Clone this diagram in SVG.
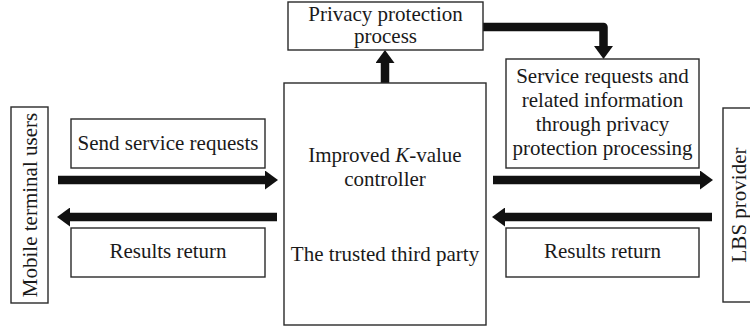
<svg xmlns="http://www.w3.org/2000/svg" width="750" height="330" viewBox="0 0 750 330">
<style>
.box{fill:#fff;stroke:#2a2a2a;stroke-width:1.4}
.t{font-family:"Liberation Serif","Times New Roman",serif;font-size:21px;fill:#1a1a1a;text-anchor:middle}
.arr{stroke:#111;stroke-width:8.5;fill:none}
</style>
<defs>
<marker id="ah" markerUnits="userSpaceOnUse" markerWidth="13" markerHeight="19" viewBox="0 0 13 19" refX="0" refY="9.5" orient="auto">
<path d="M0,0 L13,9.5 L0,19 Z" fill="#111"/>
</marker>
</defs>
<g id="connectors">
<line class="arr" x1="58" y1="180" x2="265" y2="180" marker-end="url(#ah)"/>
<line class="arr" x1="277" y1="217" x2="70" y2="217" marker-end="url(#ah)"/>
<line class="arr" x1="493" y1="180" x2="700" y2="180" marker-end="url(#ah)"/>
<line class="arr" x1="712" y1="217" x2="505" y2="217" marker-end="url(#ah)"/>
<line class="arr" x1="385" y1="83" x2="385" y2="63" marker-end="url(#ah)"/>
<path class="arr" d="M482,27 H603.5 V46" stroke-width="7" stroke-linejoin="round" marker-end="url(#ah)"/>
</g>
<g id="mobile-users">
<rect class="box" x="11" y="107" width="37" height="196"/>
<text class="t" transform="translate(29.5,205) rotate(-90)" dominant-baseline="central">Mobile terminal users</text>
</g>
<g id="send-requests">
<rect class="box" x="71" y="119" width="194" height="49"/>
<text class="t" x="168" y="150">Send service requests</text>
</g>
<g id="results-left">
<rect class="box" x="71" y="228" width="194" height="49"/>
<text class="t" x="168" y="258">Results return</text>
</g>
<g id="ttp">
<rect class="box" x="284" y="83" width="202" height="242"/>
<text class="t" x="385" y="162">Improved <tspan font-style="italic">K</tspan>-value</text>
<text class="t" x="385" y="186">controller</text>
<text class="t" x="385" y="261">The trusted third party</text>
</g>
<g id="privacy">
<rect class="box" x="288" y="2" width="195" height="48"/>
<text class="t" x="385.5" y="21">Privacy protection</text>
<text class="t" x="385.5" y="43">process</text>
</g>
<g id="service-info">
<rect class="box" x="506" y="59" width="193" height="109"/>
<text class="t" x="602.5" y="83">Service requests and</text>
<text class="t" x="602.5" y="107">related information</text>
<text class="t" x="602.5" y="131">through privacy</text>
<text class="t" x="602.5" y="155">protection processing</text>
</g>
<g id="results-right">
<rect class="box" x="506" y="228" width="193" height="49"/>
<text class="t" x="602.5" y="258">Results return</text>
</g>
<g id="lbs">
<rect class="box" x="723" y="108" width="40" height="194"/>
<text class="t" transform="translate(739,205) rotate(-90)" dominant-baseline="central">LBS provider</text>
</g>
</svg>
